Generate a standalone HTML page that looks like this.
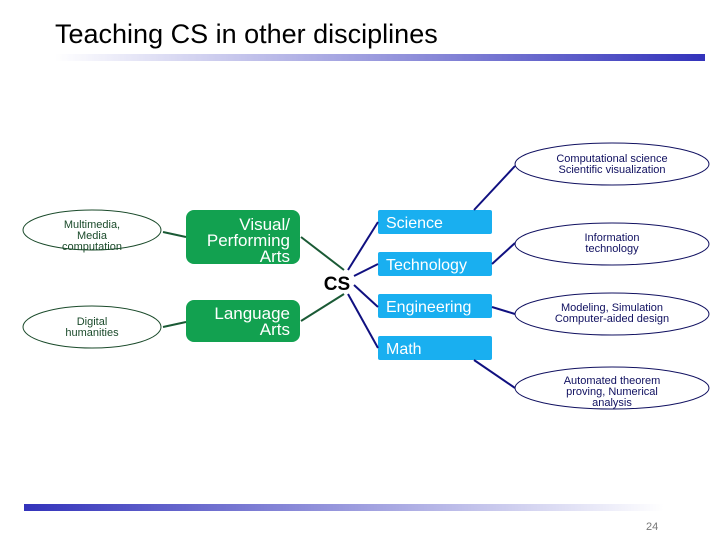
<!DOCTYPE html>
<html><head><meta charset="utf-8"><style>
body{margin:0;background:#fff;}
svg{display:block;font-family:"Liberation Sans",Arial,sans-serif;}
</style></head><body>
<svg width="720" height="540" viewBox="0 0 720 540" xmlns="http://www.w3.org/2000/svg">
<defs>
<linearGradient id="g1" x1="0" x2="1" y1="0" y2="0"><stop offset="0" stop-color="#ffffff"/><stop offset="1" stop-color="#3333bb"/></linearGradient>
<linearGradient id="g2" x1="0" x2="1" y1="0" y2="0"><stop offset="0" stop-color="#3333bb"/><stop offset="1" stop-color="#ffffff"/></linearGradient>
</defs>
<text x="55" y="43" font-size="27" fill="#000">Teaching CS in other disciplines</text>
<rect x="55" y="54" width="650" height="7" fill="url(#g1)"/>
<rect x="24" y="504" width="640" height="7" fill="url(#g2)"/>
<text x="646" y="530" font-size="11" fill="#777">24</text>

<!-- left ellipses -->
<g fill="none" stroke="#1a4a2a" stroke-width="1">
<ellipse cx="92" cy="230" rx="69" ry="20"/>
<ellipse cx="92" cy="327" rx="69" ry="21"/>
</g>
<g font-size="11" fill="#1a4a2a" text-anchor="middle">
<text x="92" y="228">Multimedia,</text>
<text x="92" y="239">Media</text>
<text x="92" y="250">computation</text>
<text x="92" y="325">Digital</text>
<text x="92" y="336">humanities</text>
</g>

<!-- green boxes -->
<rect x="186" y="210" width="114" height="54" rx="8" fill="#12a150"/>
<rect x="186" y="300" width="114" height="42" rx="8" fill="#12a150"/>
<g font-size="17" fill="#fff" text-anchor="end">
<text x="290" y="230">Visual/</text>
<text x="290" y="246">Performing</text>
<text x="290" y="262">Arts</text>
<text x="290" y="319">Language</text>
<text x="290" y="335">Arts</text>
</g>

<!-- green connectors -->
<g stroke="#1a5a35" stroke-width="2" fill="#1a5a35">
<line x1="344" y1="270" x2="301" y2="237"/>
<line x1="344" y1="294" x2="301" y2="321"/>
<line x1="186" y1="237" x2="163" y2="232"/>
<line x1="186" y1="322" x2="163" y2="327"/>
</g>

<text x="337" y="290" font-size="19" font-weight="bold" text-anchor="middle" fill="#000">CS</text>

<!-- blue boxes -->
<g fill="#19aff0">
<rect x="378" y="210" width="114" height="24" rx="2"/>
<rect x="378" y="252" width="114" height="24" rx="2"/>
<rect x="378" y="294" width="114" height="24" rx="2"/>
<rect x="378" y="336" width="114" height="24" rx="2"/>
</g>
<g font-size="16" fill="#fff">
<text x="386" y="228">Science</text>
<text x="386" y="270">Technology</text>
<text x="386" y="312">Engineering</text>
<text x="386" y="354">Math</text>
</g>

<!-- blue connectors -->
<g stroke="#101080" stroke-width="2">
<line x1="348" y1="270" x2="378" y2="222"/>
<line x1="354" y1="276" x2="378" y2="264"/>
<line x1="354" y1="285" x2="378" y2="307"/>
<line x1="348" y1="294" x2="378" y2="348"/>
<line x1="474" y1="210" x2="515" y2="166"/>
<line x1="492" y1="264" x2="515" y2="243"/>
<line x1="492" y1="307" x2="515" y2="314"/>
<line x1="474" y1="360" x2="515" y2="388"/>
</g>

<!-- right ellipses -->
<g fill="none" stroke="#101060" stroke-width="1">
<ellipse cx="612" cy="164" rx="97" ry="21"/>
<ellipse cx="612" cy="244" rx="97" ry="21"/>
<ellipse cx="612" cy="314" rx="97" ry="21"/>
<ellipse cx="612" cy="388" rx="97" ry="21"/>
</g>
<g font-size="11" fill="#101060" text-anchor="middle">
<text x="612" y="162">Computational science</text>
<text x="612" y="173">Scientific visualization</text>
<text x="612" y="241">Information</text>
<text x="612" y="252">technology</text>
<text x="612" y="311">Modeling, Simulation</text>
<text x="612" y="322">Computer-aided design</text>
<text x="612" y="384">Automated theorem</text>
<text x="612" y="395">proving, Numerical</text>
<text x="612" y="406">analysis</text>
</g>
</svg>
</body></html>
